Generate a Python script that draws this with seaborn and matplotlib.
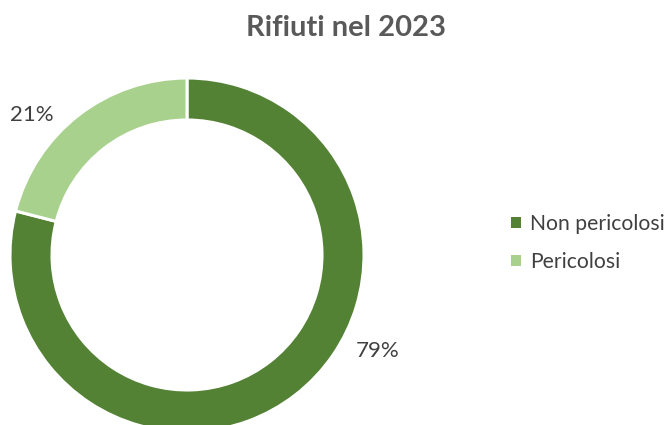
import matplotlib
matplotlib.use("Agg")
import matplotlib.pyplot as plt
import seaborn as sns

# Waste composition for 2023
categories = ["Non pericolosi", "Pericolosi"]
shares = [79, 21]
title = "Rifiuti nel 2023"

sns.set_theme(style="white")
plt.rcParams["font.family"] = ["Lato", "DejaVu Sans"]

colors = ["#548235", "#A9D18E"]
text_gray = "#404040"

W, H = 670, 425
fig = plt.figure(figsize=(W / 100, H / 100), dpi=100)
ax = fig.add_axes([0, 0, 1, 1])

# Donut ring, drawn clockwise from 12 o'clock, in pixel-like data units
cx, cy, r_out, ring = 187, 170, 177, 42
wedges, _ = ax.pie(
    shares,
    colors=colors,
    startangle=90,
    counterclock=False,
    center=(cx, cy),
    radius=r_out,
    wedgeprops=dict(width=ring, edgecolor="white", linewidth=2.2),
)
ax.set_xlim(0, W)
ax.set_ylim(0, H)
ax.set_aspect("equal")
ax.axis("off")

# Percentage labels outside the ring
label_pos = [(378, 74), (32, 310)]
for share, (x, y) in zip(shares, label_pos):
    ax.text(x, y, f"{share}%", ha="center", va="center",
            fontsize=16, color=text_gray)

ax.text(346, 397, title, ha="center", va="center", fontsize=21,
        fontweight="bold", color="#595959")

leg = ax.legend(
    wedges, categories,
    loc="center left",
    bbox_to_anchor=(511, 182),
    bbox_transform=ax.transData,
    frameon=False,
    fontsize=15.2,
    handlelength=0.45,
    handleheight=0.45,
    handletextpad=0.45,
    labelspacing=0.85,
    borderpad=0,
    borderaxespad=0,
)
for t in leg.get_texts():
    t.set_color(text_gray)
for h in leg.legend_handles:
    h.set_linewidth(0)

fig.savefig("out.png", dpi=100)
